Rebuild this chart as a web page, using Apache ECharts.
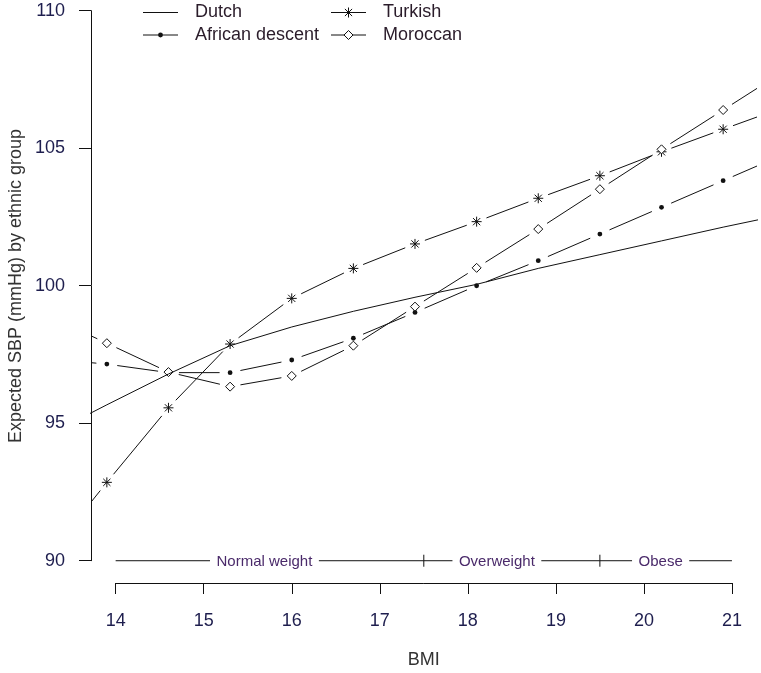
<!DOCTYPE html>
<html><head><meta charset="utf-8">
<script src="https://cdn.jsdelivr.net/npm/echarts@6/dist/echarts.min.js"></script>
<style>html,body{margin:0;padding:0;background:#fff}#c{width:761px;height:673px}</style>
</head><body><div id="c"></div><script>
// ---- data ----
const bmiPoints = [13.2, 13.9, 14.6, 15.3, 16.0, 16.7, 17.4, 18.1, 18.8, 19.5, 20.2, 20.9, 21.6];
const dutch    = [94.52, 95.67, 96.79, 97.82, 98.50, 99.07, 99.58, 100.05, 100.63, 101.13, 101.63, 102.13, 102.60];
const african  = [97.35, 97.15, 96.84, 96.84, 97.30, 98.09, 99.03, 100.00, 100.91, 101.88, 102.85, 103.82, 104.79];
const turkish  = [90.05, 92.85, 95.56, 97.88, 99.54, 100.63, 101.52, 102.33, 103.18, 104.00, 104.87, 105.69, 106.50];
const moroccan = [98.95, 97.91, 96.86, 96.33, 96.72, 97.82, 99.24, 100.65, 102.06, 103.51, 104.96, 106.39, 107.82];

const legendNames = ['Dutch', 'African descent', 'Turkish', 'Moroccan'];
const legendMarkers = ['none', 'dot', 'asterisk', 'diamond'];

const xTicks = [14, 15, 16, 17, 18, 19, 20, 21];
const yTicks = [90, 95, 100, 105, 110];

const weightCategories = ['Normal weight', 'Overweight', 'Obese'];
const categoryBounds = [14, 17.5, 19.5, 21];
const categoryLabelAt = [15.69, 18.33, 20.19];
const categoryLevel = 90;

// ---- style ----
const FONT = '"Liberation Sans", Arial, sans-serif';
const LINE = '#111';
const TICK_COL = '#1e1e4e';
const GAP = 10.5;

function markerEls(kind, cx, cy) {
  const st = { stroke: LINE, lineWidth: 1 };
  if (kind === 'dot') return [{ type: 'circle', shape: { cx, cy, r: 2.4 }, style: { fill: LINE } }];
  if (kind === 'diamond') return [{ type: 'polygon', shape: { points: [[cx - 4.5, cy], [cx, cy - 4.5], [cx + 4.5, cy], [cx, cy + 4.5]] }, style: { fill: '#fff', stroke: LINE, lineWidth: 1 } }];
  if (kind === 'asterisk') {
    const r = 5, d = 3.6;
    return [
      { type: 'line', shape: { x1: cx - r, y1: cy, x2: cx + r, y2: cy }, style: st },
      { type: 'line', shape: { x1: cx, y1: cy - r, x2: cx, y2: cy + r }, style: st },
      { type: 'line', shape: { x1: cx - d, y1: cy - d, x2: cx + d, y2: cy + d }, style: st },
      { type: 'line', shape: { x1: cx - d, y1: cy + d, x2: cx + d, y2: cy - d }, style: st }
    ];
  }
  return [];
}

function gappedSeries(name, values, kind) {
  return {
    type: 'custom', name, xAxisIndex: 0, yAxisIndex: 0, clip: true,
    data: bmiPoints.map((x, i) => [x, values[i]]),
    encode: { x: 0, y: 1 },
    renderItem: function (params, api) {
      const i = params.dataIndex;
      const p = api.coord([bmiPoints[i], values[i]]);
      const children = markerEls(kind, p[0], p[1]);
      if (i < values.length - 1) {
        const q = api.coord([bmiPoints[i + 1], values[i + 1]]);
        const dx = q[0] - p[0], dy = q[1] - p[1];
        const len = Math.hypot(dx, dy);
        const ux = dx / len, uy = dy / len;
        children.unshift({ type: 'line', shape: { x1: p[0] + ux * GAP, y1: p[1] + uy * GAP, x2: q[0] - ux * GAP, y2: q[1] - uy * GAP }, style: { stroke: LINE, lineWidth: 1 } });
      }
      return { type: 'group', children };
    }
  };
}

// legend via graphic
const legendColX = [143, 331];
const legendRowY = [12.5, 35];
const sampleW = 35, textGap = 17;
const legendEls = [];
legendNames.forEach((n, i) => {
  const x0 = legendColX[Math.floor(i / 2)], y0 = legendRowY[i % 2];
  legendEls.push({ type: 'line', shape: { x1: x0, y1: y0, x2: x0 + sampleW, y2: y0 }, style: { stroke: LINE, lineWidth: 1 } });
  markerEls(legendMarkers[i], x0 + sampleW / 2, y0).forEach(e => legendEls.push(e));
  legendEls.push({ type: 'text', x: x0 + sampleW + textGap, y: y0, style: { text: n, fill: '#2a1c2a', fontSize: 18, fontFamily: FONT, align: 'left', verticalAlign: 'middle', textAlign: 'left', textVerticalAlign: 'middle' } });
});

const option = {
  animation: false,
  backgroundColor: '#fff',
  grid: [
    { left: 91, right: 4.4, top: 0, bottom: 90 },
    { left: 91, width: 10, top: 10.7, bottom: 112.3 },
    { left: 115.7, right: 29, top: 450, bottom: 90 }
  ],
  xAxis: [
    { gridIndex: 0, type: 'value', min: 13.72, max: 21.28, show: false },
    { gridIndex: 1, type: 'value', min: 0, max: 1, show: false },
    { gridIndex: 2, type: 'value', min: xTicks[0], max: xTicks[xTicks.length - 1], interval: 1,
      axisLine: { show: true, onZero: false, lineStyle: { color: LINE, width: 1 } },
      axisTick: { show: true, length: 11, lineStyle: { color: LINE, width: 1 } },
      axisLabel: { fontSize: 18, fontFamily: FONT, color: TICK_COL, margin: 29 },
      splitLine: { show: false } }
  ],
  yAxis: [
    { gridIndex: 0, type: 'value', min: 89.19, max: 110.39, show: false },
    { gridIndex: 1, type: 'value', min: yTicks[0], max: yTicks[yTicks.length - 1], interval: 5,
      axisLine: { show: true, onZero: false, lineStyle: { color: LINE, width: 1 } },
      axisTick: { show: true, length: 12, lineStyle: { color: LINE, width: 1 } },
      axisLabel: { fontSize: 18, fontFamily: FONT, color: TICK_COL, margin: 26 },
      splitLine: { show: false } },
    { gridIndex: 2, type: 'value', min: 0, max: 1, show: false }
  ],
  graphic: [
    { type: 'text', x: 423.8, y: 660, style: { text: 'BMI', fill: '#333', fontSize: 18, fontFamily: FONT, align: 'center', verticalAlign: 'middle', textAlign: 'center', textVerticalAlign: 'middle' } },
    { type: 'text', x: 16, y: 286, rotation: Math.PI / 2, style: { text: 'Expected SBP (mmHg) by ethnic group', fill: '#333', fontSize: 18, fontFamily: FONT, align: 'center', verticalAlign: 'middle', textAlign: 'center', textVerticalAlign: 'middle' } }
  ].concat(legendEls),
  series: [
    { type: 'line', name: 'Dutch', xAxisIndex: 0, yAxisIndex: 0, clip: true, symbol: 'none',
      data: bmiPoints.map((x, i) => [x, dutch[i]]), lineStyle: { color: LINE, width: 1 } },
    gappedSeries('African descent', african, 'dot'),
    gappedSeries('Turkish', turkish, 'asterisk'),
    gappedSeries('Moroccan', moroccan, 'diamond'),
    { type: 'custom', name: 'BMI category', xAxisIndex: 0, yAxisIndex: 0,
      data: categoryLabelAt.map((x) => [x, categoryLevel]), encode: { x: 0, y: 1 },
      renderItem: function (params, api) {
        const i = params.dataIndex;
        const a = api.coord([categoryBounds[i], categoryLevel]);
        const b = api.coord([categoryBounds[i + 1], categoryLevel]);
        const c = api.coord([categoryLabelAt[i], categoryLevel]);
        const ch = [{ type: 'line', shape: { x1: a[0], y1: a[1], x2: b[0], y2: b[1] }, style: { stroke: LINE, lineWidth: 1 } }];
        if (i > 0) ch.push({ type: 'line', shape: { x1: a[0], y1: a[1] - 6, x2: a[0], y2: a[1] + 6 }, style: { stroke: LINE, lineWidth: 1 } });
        ch.push({ type: 'text', x: c[0], y: c[1] + 1, style: { text: weightCategories[i], fill: '#4a2a6a', fontSize: 15, fontFamily: FONT, align: 'center', verticalAlign: 'middle', textAlign: 'center', textVerticalAlign: 'middle', backgroundColor: '#fff', padding: [1, 6.5] } });
        return { type: 'group', children: ch };
      } }
  ]
};
const chart = echarts.init(document.getElementById('c'), null, { renderer: 'canvas' });
chart.setOption(option);
</script></body></html>
